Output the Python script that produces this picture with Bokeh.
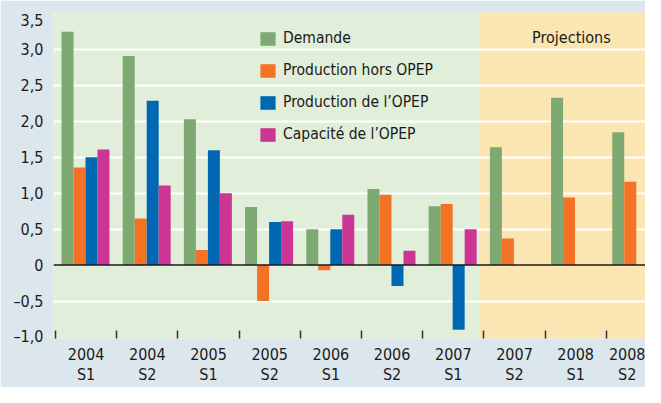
from bokeh.plotting import figure
from bokeh.models import (Range1d, FixedTicker, BoxAnnotation, Span, Label, Legend,
                          LegendItem, ColumnDataSource)
from bokeh.embed import file_html
from bokeh.resources import INLINE

periods = ["2004\nS1", "2004\nS2", "2005\nS1", "2005\nS2", "2006\nS1",
           "2006\nS2", "2007\nS1", "2007\nS2", "2008\nS1", "2008\nS2"]
series_names = ["Demande", "Production hors OPEP", "Production de l\u2019OPEP", "Capacit\u00e9 de l\u2019OPEP"]
demande = [3.25, 2.91, 2.03, 0.81, 0.50, 1.06, 0.82, 1.64, 2.33, 1.85]
hors_opep = [1.36, 0.65, 0.21, -0.50, -0.07, 0.98, 0.85, 0.37, 0.94, 1.16]
prod_opep = [1.50, 2.29, 1.60, 0.60, 0.50, -0.29, -0.90, None, None, None]
capa_opep = [1.61, 1.11, 1.00, 0.61, 0.70, 0.20, 0.50, None, None, None]
y_ticks = [3.5, 3.0, 2.5, 2.0, 1.5, 1.0, 0.5, 0, -0.5, -1.0]
y_tick_labels = ["3,5", "3,0", "2,5", "2,0", "1,5", "1,0", "0,5", "0", "\u20130,5", "\u20131,0"]
first_projection = 7
projection_label = "Projections"

colors = ["#7ea973", "#f37226", "#0068b3", "#cc3594"]
FONT = "'DejaVu Sans Condensed', sans-serif"

p = figure(width=645, height=387, output_backend="svg", toolbar_location=None,
           x_range=Range1d(-0.033, 9.641), y_range=Range1d(-1.022, 3.517),
           min_border_left=53, min_border_right=0, min_border_top=12, min_border_bottom=30)
p.background_fill_color = "#e1eed9"
p.border_fill_color = "#dce6ed"
p.outline_line_color = None

# projection shading
p.add_layout(BoxAnnotation(left=first_projection - 0.07, fill_color="#fbe5b2", fill_alpha=1,
                           line_color=None, level="image"))

bw = 0.196
all_series = [demande, hors_opep, prod_opep, capa_opep]
items = []
for k, (vals, name, col) in enumerate(zip(all_series, series_names, colors)):
    xs, tops = [], []
    for i, v in enumerate(vals):
        if v is None:
            continue
        xs.append(i + 0.49 + (k - 1.5) * bw)
        tops.append(v)
    src = ColumnDataSource(dict(x=xs, top=tops))
    r = p.vbar(x="x", top="top", bottom=0, width=bw, source=src, fill_color=col, line_color=None)
    items.append(LegendItem(label=name, renderers=[r]))

p.add_layout(Span(location=0, dimension="width", line_color="#1a1a1a", line_width=1.5))

# grid
p.xgrid.visible = False
p.ygrid.ticker = FixedTicker(ticks=[t for t in y_ticks if t not in (0, 3.5, -1.0)])
p.ygrid.grid_line_color = "white"
p.ygrid.grid_line_width = 2

# y axis
yt = list(y_ticks)
yt[0] = 3.41
p.yaxis.ticker = FixedTicker(ticks=yt)
p.yaxis.major_label_overrides = {t: l for t, l in zip(yt, y_tick_labels)}
p.yaxis.axis_line_color = None
p.yaxis.major_tick_line_color = None
p.yaxis.minor_tick_line_color = None
p.yaxis.major_tick_in = 0
p.yaxis.major_tick_out = 0
p.yaxis.major_label_standoff = 10
p.yaxis.major_label_text_font = FONT
p.yaxis.major_label_text_font_size = "16px"
p.yaxis.major_label_text_color = "#1a1a1a"

# x axis
centers = [i + 0.5 for i in range(len(periods))]
p.xaxis.ticker = FixedTicker(ticks=centers, minor_ticks=list(range(len(periods))))
p.xaxis.major_label_overrides = {c: l for c, l in zip(centers, periods)}
p.xaxis.axis_line_color = None
p.xaxis.major_tick_line_color = None
p.xaxis.major_tick_in = 0
p.xaxis.major_tick_out = 0
p.xaxis.minor_tick_line_color = "#333333"
p.xaxis.minor_tick_line_width = 1.5
p.xaxis.minor_tick_in = 8
p.xaxis.minor_tick_out = 0
p.xaxis.major_label_standoff = 6
p.xaxis.major_label_text_font = FONT
p.xaxis.major_label_text_font_size = "16px"
p.xaxis.major_label_text_color = "#1a1a1a"
p.xaxis.major_label_text_line_height = 1.1

legend = Legend(items=items, location=(205, 195), orientation="vertical",
                background_fill_alpha=0, border_line_color=None,
                glyph_width=19, glyph_height=17, label_height=17, label_standoff=6,
                spacing=14, padding=0, margin=0,
                label_text_font=FONT, label_text_font_size="15.5px", label_text_color="#1a1a1a")
p.add_layout(legend)

p.add_layout(Label(x=8.43, y=3.17, text=projection_label, text_align="center",
                   text_baseline="middle", text_font=FONT, text_font_size="16px",
                   text_color="#1a1a1a"))

open("out.html", "w").write(file_html(p, INLINE))
